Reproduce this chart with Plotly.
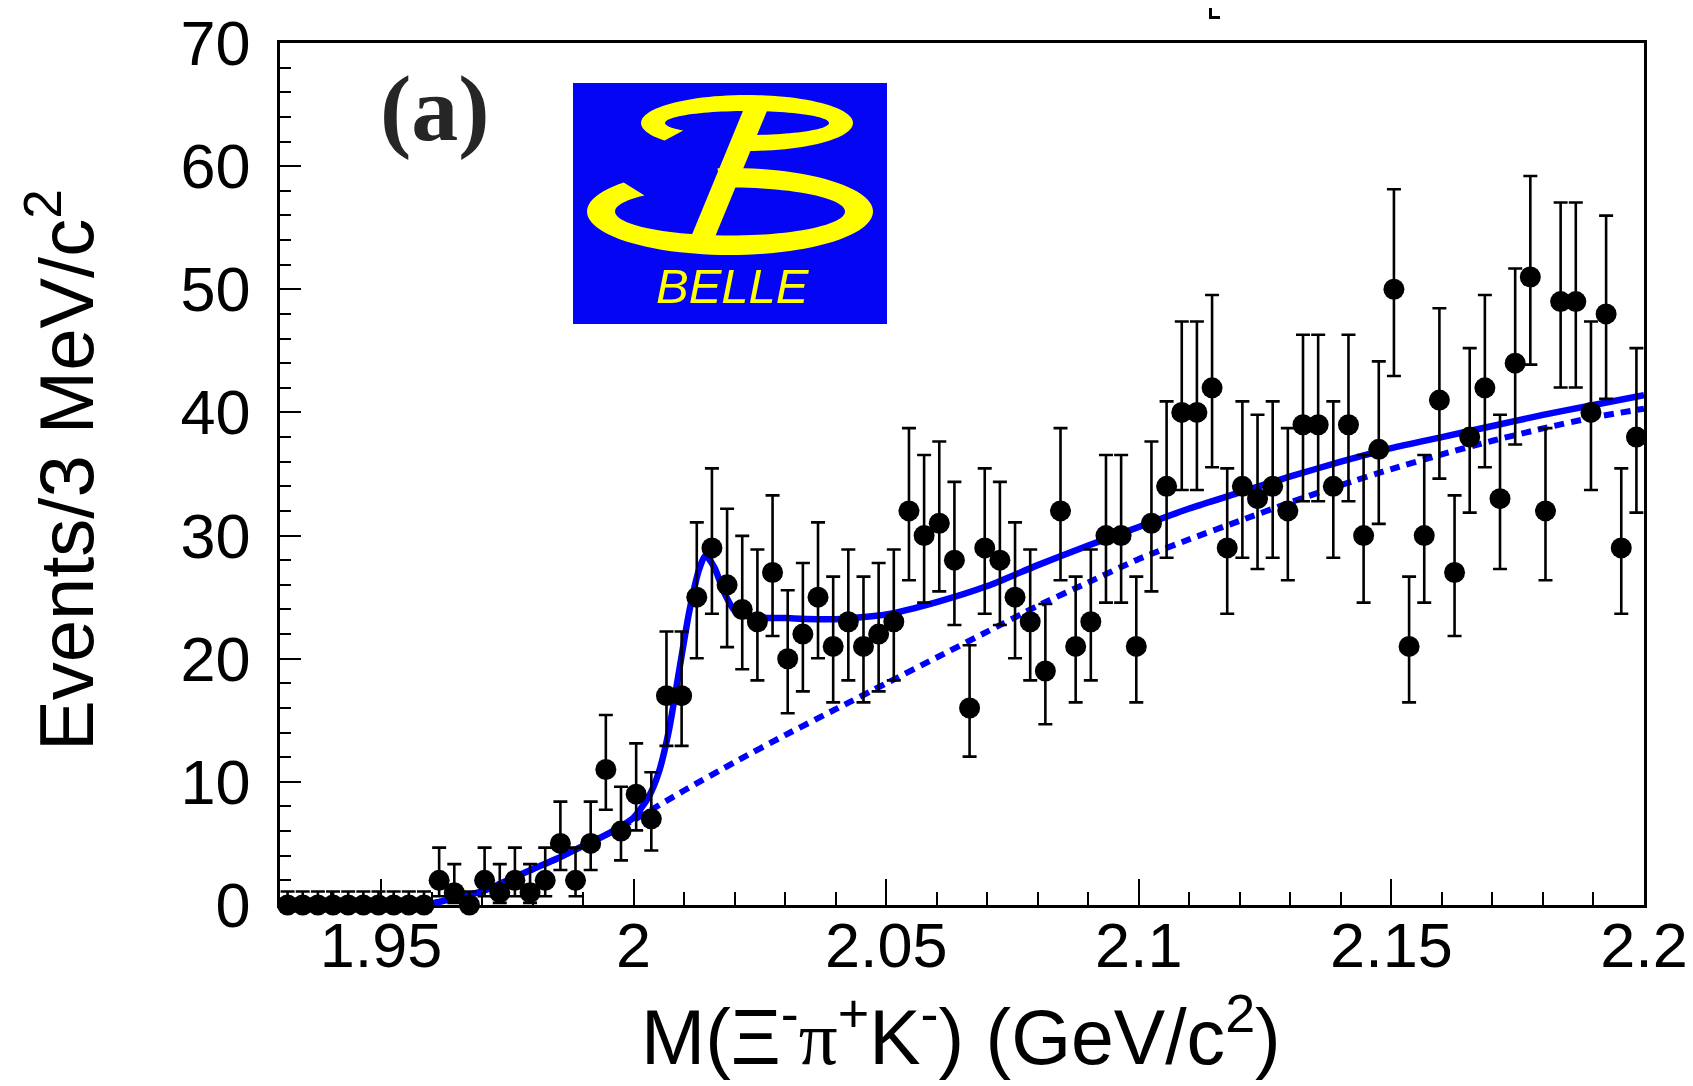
import numpy as np
import plotly.graph_objects as go

# ---------------- data ----------------
bin_low = 1.93
bin_width = 0.003
counts = [0, 0, 0, 0, 0, 0, 0, 0, 0, 0,
          2, 1, 0, 2, 1, 2, 1, 2, 5, 2,
          5, 11, 6, 9, 7, 17, 17, 25, 29, 26,
          24, 23, 27, 20, 22, 25, 21, 23, 21,
          22, 23, 32, 30, 31, 28, 16, 29, 28, 25,
          23, 19, 32, 21, 23, 30, 30, 21, 31, 34,
          40, 40, 42, 29, 34, 33, 34, 32, 39, 39,
          34, 39, 30, 37, 50, 21, 30, 41, 27, 38,
          42, 33, 44, 51, 32, 49, 49, 40, 48, 29, 38]

fit_x = [1.930, 1.958, 1.962, 1.966, 1.970, 1.975, 1.980, 1.985, 1.990, 1.995,
         2.000, 2.003, 2.005, 2.007, 2.009, 2.011, 2.013, 2.0142, 2.016, 2.018,
         2.020, 2.023, 2.030, 2.040, 2.050, 2.060, 2.070, 2.080, 2.090, 2.100,
         2.110, 2.120, 2.130, 2.140, 2.150, 2.160, 2.170, 2.180, 2.190, 2.200]
fit_y = [0.0, 0.0, 0.3, 0.7, 1.1, 2.0, 2.9, 3.8, 4.8, 5.8,
         7.1, 8.8, 10.8, 14.2, 19.0, 23.8, 27.3, 28.4, 27.4, 25.3,
         23.9, 23.4, 23.3, 23.2, 23.6, 24.6, 25.9, 27.6, 29.2, 30.7,
         32.2, 33.5, 34.8, 36.0, 37.1, 38.0, 38.9, 39.8, 40.6, 41.4]

bkg_x = [1.930, 1.958, 1.962, 1.966, 1.970, 1.975, 1.980, 1.985, 1.990, 1.995,
         2.000, 2.010, 2.020, 2.030, 2.040, 2.050, 2.060, 2.070, 2.080, 2.090,
         2.100, 2.110, 2.120, 2.130, 2.140, 2.150, 2.160, 2.170, 2.180, 2.190, 2.200]
bkg_y = [0.0, 0.0, 0.3, 0.7, 1.1, 2.0, 2.9, 3.8, 4.8, 5.8,
         6.9, 9.3, 11.6, 13.8, 15.9, 18.0, 20.1, 22.2, 24.3, 26.2,
         28.1, 29.7, 31.2, 32.7, 34.1, 35.4, 36.6, 37.7, 38.7, 39.6, 40.3]

x_tickvals = [1.95, 2.0, 2.05, 2.1, 2.15, 2.2]
x_ticktext = ["1.95", "2", "2.05", "2.1", "2.15", "2.2"]
y_tickvals = [0, 10, 20, 30, 40, 50, 60, 70]
y_ticktext = ["0", "10", "20", "30", "40", "50", "60", "70"]

# ---------------- derived ----------------
n = np.array(counts, dtype=float)
centers = bin_low + bin_width * (np.arange(len(counts)) + 0.5)
err_up = np.where(n > 0, np.sqrt(n + 0.75) + 1.0, 1.1)
safe = np.where(n > 0, n, 1.0)
low_lim = safe * (1 - 1 / (9 * safe) - 1 / (3 * np.sqrt(safe))) ** 3
err_dn = np.where(n > 0, n - low_lim, 0.0)

W, H = 1693, 1086
ML, MR, MT, MB = 272, 57, 35, 189
PW, PH = W - ML - MR, H - MT - MB

def P(px, py):
    return (px - ML) / PW, 1 - (py - MT) / PH

BLUE = "#0000ff"
LOGO_BLUE = "#0505f5"
YEL = "#ffff00"
FONT = "Liberation Sans, Arial, sans-serif"

fig = go.Figure()

fig.add_trace(go.Scatter(x=bkg_x, y=bkg_y, mode="lines",
                         line=dict(color=BLUE, width=6, dash="10px,7px", shape="spline", smoothing=0.6),
                         showlegend=False, hoverinfo="skip"))
fig.add_trace(go.Scatter(x=fit_x, y=fit_y, mode="lines",
                         line=dict(color=BLUE, width=6.5, shape="spline", smoothing=0.6),
                         showlegend=False, hoverinfo="skip"))
fig.add_trace(go.Scatter(x=centers, y=counts, mode="markers",
                         marker=dict(color="black", size=21, symbol="circle"),
                         error_y=dict(type="data", symmetric=False, array=err_up, arrayminus=err_dn,
                                      color="black", thickness=2.6, width=7),
                         cliponaxis=False, showlegend=False))

# ---------------- logo ----------------
shapes = []
x0, y0 = P(565, 75)
x1, y1 = P(879, 316)
shapes.append(dict(type="rect", xref="paper", yref="paper", x0=x0, y0=y1, x1=x1, y1=y0,
                   fillcolor=LOGO_BLUE, line=dict(width=0), layer="above"))

def ring_path(cx, cy, rxo, ryo, rxi, ryi, t0, t1, npts=90):
    ts = np.radians(np.linspace(t0, t1, npts))
    pts = [P(cx + rxo * np.cos(t), cy - ryo * np.sin(t)) for t in ts]
    pts += [P(cx + rxi * np.cos(t), cy - ryi * np.sin(t)) for t in ts[::-1]]
    return "M " + " L ".join(f"{a:.5f},{b:.5f}" for a, b in pts) + " Z"

def poly_path(pp):
    pts = [P(a, b) for a, b in pp]
    return "M " + " L ".join(f"{a:.5f},{b:.5f}" for a, b in pts) + " Z"

shapes.append(dict(type="path", xref="paper", yref="paper", layer="above",
                   path=ring_path(722, 203.5, 143, 43.5, 115, 24, 138, 455),
                   fillcolor=YEL, line=dict(width=0)))
shapes.append(dict(type="path", xref="paper", yref="paper", layer="above",
                   path=ring_path(739, 115, 106, 28, 82, 12, -90, 219),
                   fillcolor=YEL, line=dict(width=0)))
shapes.append(dict(type="path", xref="paper", yref="paper", layer="above",
                   path=poly_path([(737, 98), (761, 98), (707, 229), (683, 229)]),
                   fillcolor=YEL, line=dict(width=0)))
# small bracket artifact at top
shapes.append(dict(type="path", xref="paper", yref="paper", layer="above",
                   path=poly_path([(1201, 0), (1204, 0), (1204, 8), (1212, 8), (1212, 11), (1201, 11)]),
                   fillcolor="black", line=dict(width=0)))

annotations = []
bx, by = P(725, 278)
annotations.append(dict(xref="paper", yref="paper", x=bx, y=by, text="<i>BELLE</i>", showarrow=False,
                        font=dict(family=FONT, size=49, color=YEL), xanchor="center", yanchor="middle"))
ax_, ay_ = P(427, 100)
annotations.append(dict(xref="paper", yref="paper", x=ax_, y=ay_, text="<b>(a)</b>", showarrow=False,
                        font=dict(family="Liberation Serif, Times New Roman, serif", size=94, color="#262626"),
                        xanchor="center", yanchor="middle"))
tx, ty = P(953, 1024)
annotations.append(dict(xref="paper", yref="paper", x=tx, y=ty,
                        text="M(Ξ<sup>-</sup><span style=\"font-family:'Liberation Serif'\">π</span><sup>+</sup>K<sup>-</sup>) (GeV/c<sup>2</sup>)",
                        showarrow=False, font=dict(family=FONT, size=77, color="black"),
                        xanchor="center", yanchor="middle"))
yx, yy = P(53, 462)
annotations.append(dict(xref="paper", yref="paper", x=yx, y=yy, text="Events/3 MeV/c<sup>2</sup>",
                        textangle=-90, showarrow=False, font=dict(family=FONT, size=76, color="black"),
                        xanchor="center", yanchor="middle"))

fig.update_layout(
    width=W, height=H,
    margin=dict(l=ML, r=MR, t=MT, b=MB, autoexpand=False),
    paper_bgcolor="white", plot_bgcolor="white",
    shapes=shapes, annotations=annotations,
    xaxis=dict(range=[1.93, 2.2], showgrid=False, zeroline=False,
               showline=True, linecolor="black", linewidth=2.5, mirror=True,
               ticks="inside", ticklen=26, tickwidth=2.2, tickcolor="black",
               tickvals=x_tickvals, ticktext=x_ticktext,
               tickfont=dict(family=FONT, size=63, color="black"),
               ticklabelstandoff=-16,
               minor=dict(ticks="inside", ticklen=13, tickwidth=2.2, tickcolor="black", dtick=0.01,
                          tick0=1.93, showgrid=False)),
    yaxis=dict(range=[0, 70], showgrid=False, zeroline=False,
               showline=True, linecolor="black", linewidth=2.5, mirror=True,
               ticks="inside", ticklen=21, tickwidth=2.2, tickcolor="black",
               tickvals=y_tickvals, ticktext=y_ticktext,
               tickfont=dict(family=FONT, size=63, color="black"),
               ticklabelstandoff=14,
               minor=dict(ticks="inside", ticklen=11, tickwidth=2.2, tickcolor="black", dtick=2,
                          tick0=0, showgrid=False)),
)

fig.write_html("out.html")
